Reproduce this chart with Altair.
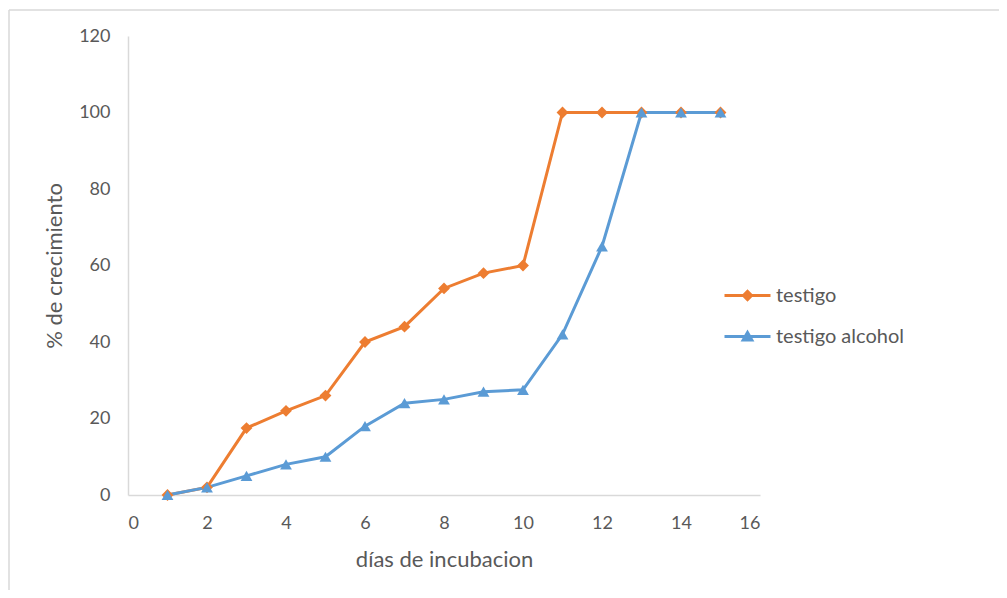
import altair as alt
import pandas as pd

dias = list(range(1, 16))
testigo = [0, 2, 17.5, 22, 26, 40, 44, 54, 58, 60, 100, 100, 100, 100, 100]
testigo_alcohol = [0, 2, 5, 8, 10, 18, 24, 25, 27, 27.5, 42, 65, 100, 100, 100]
series = ["testigo", "testigo alcohol"]
colors = ["#ED7D31", "#5B9BD5"]
x_ticks = list(range(0, 17, 2))
y_ticks = list(range(0, 121, 20))

rows = []
for d, a, b in zip(dias, testigo, testigo_alcohol):
    rows.append({"dia": d, "valor": a, "serie": series[0]})
    rows.append({"dia": d, "valor": b, "serie": series[1]})
df = pd.DataFrame(rows)

FONT = "Lato"
GRAY = "#595959"
W, H = 632, 459
PAD = {"left": 120, "top": 28, "right": 239, "bottom": 95}

color_scale = alt.Scale(domain=series, range=colors)
x_enc = alt.X("dia:Q", scale=alt.Scale(domain=[0, 16], nice=False),
              axis=alt.Axis(values=x_ticks, title="días de incubacion",
                            labelPadding=19, titlePadding=17, titleFontSize=22))
y_enc = alt.Y("valor:Q", scale=alt.Scale(domain=[0, 120], nice=False),
              axis=alt.Axis(values=y_ticks, title="% de crecimiento",
                            labelPadding=18, titlePadding=12, titleFontSize=22))

lines = alt.Chart(df).mark_line(strokeWidth=3).encode(
    x=x_enc, y=y_enc,
    color=alt.Color("serie:N", scale=color_scale, legend=None),
    detail="serie:N",
)

pts = alt.Chart(df).mark_point(filled=True, opacity=1, size=140).encode(
    x="dia:Q", y="valor:Q",
    color=alt.Color("serie:N", scale=color_scale, legend=None),
    shape=alt.Shape("serie:N", scale=alt.Scale(domain=series, range=["diamond", "triangle-up"]), legend=None),
)

legend_def = alt.Legend(title=None, orient="none", legendX=604, legendY=244,
                        symbolSize=940, labelOffset=13, rowPadding=15,
                        labelFontSize=20, labelColor=GRAY, labelFont=FONT,
                        padding=0, symbolStrokeWidth=0)

# legend layer (no visible marks in plot; filtered out)
leg_paths = [
    "M-1.5,-0.1H1.5V0.1H-1.5Z M0,-0.4L0.4,0L0,0.4L-0.4,0Z",
    "M-1.5,-0.1H1.5V0.1H-1.5Z M0,-0.45L0.45,0.32L-0.45,0.32Z",
]
leg = alt.Chart(df).mark_point(filled=True, opacity=1).encode(
    x="dia:Q", y="valor:Q",
    color=alt.Color("serie:N", scale=color_scale, legend=legend_def),
    shape=alt.Shape("serie:N", scale=alt.Scale(domain=series, range=leg_paths), legend=legend_def),
).transform_filter("datum.dia < 0")

one = pd.DataFrame({"a": [0]})
frame_left = alt.Chart(one).mark_rule(color="#d9d9d9", strokeWidth=1.5).encode(
    x=alt.value(-119), y=alt.value(-26), y2=alt.value(H + PAD["bottom"]))
frame_top = alt.Chart(one).mark_rule(color="#d9d9d9", strokeWidth=1.5).encode(
    x=alt.value(-119), x2=alt.value(W + PAD["right"]), y=alt.value(-26))

chart = alt.layer(frame_left, frame_top, lines, pts, leg).resolve_scale(
    shape="independent", color="independent"
).properties(
    width=W, height=H, autosize=alt.AutoSizeParams(type="none"), padding=PAD,
    background="white",
).configure_view(stroke=None).configure_axis(
    grid=False, ticks=False, domainColor="#d9d9d9", domainWidth=1.5,
    labelColor=GRAY, titleColor=GRAY, labelFont=FONT, titleFont=FONT,
    labelFontSize=18, titleFontWeight="normal",
)

chart.save("out.html", embed_options={"renderer": "svg", "actions": False})
